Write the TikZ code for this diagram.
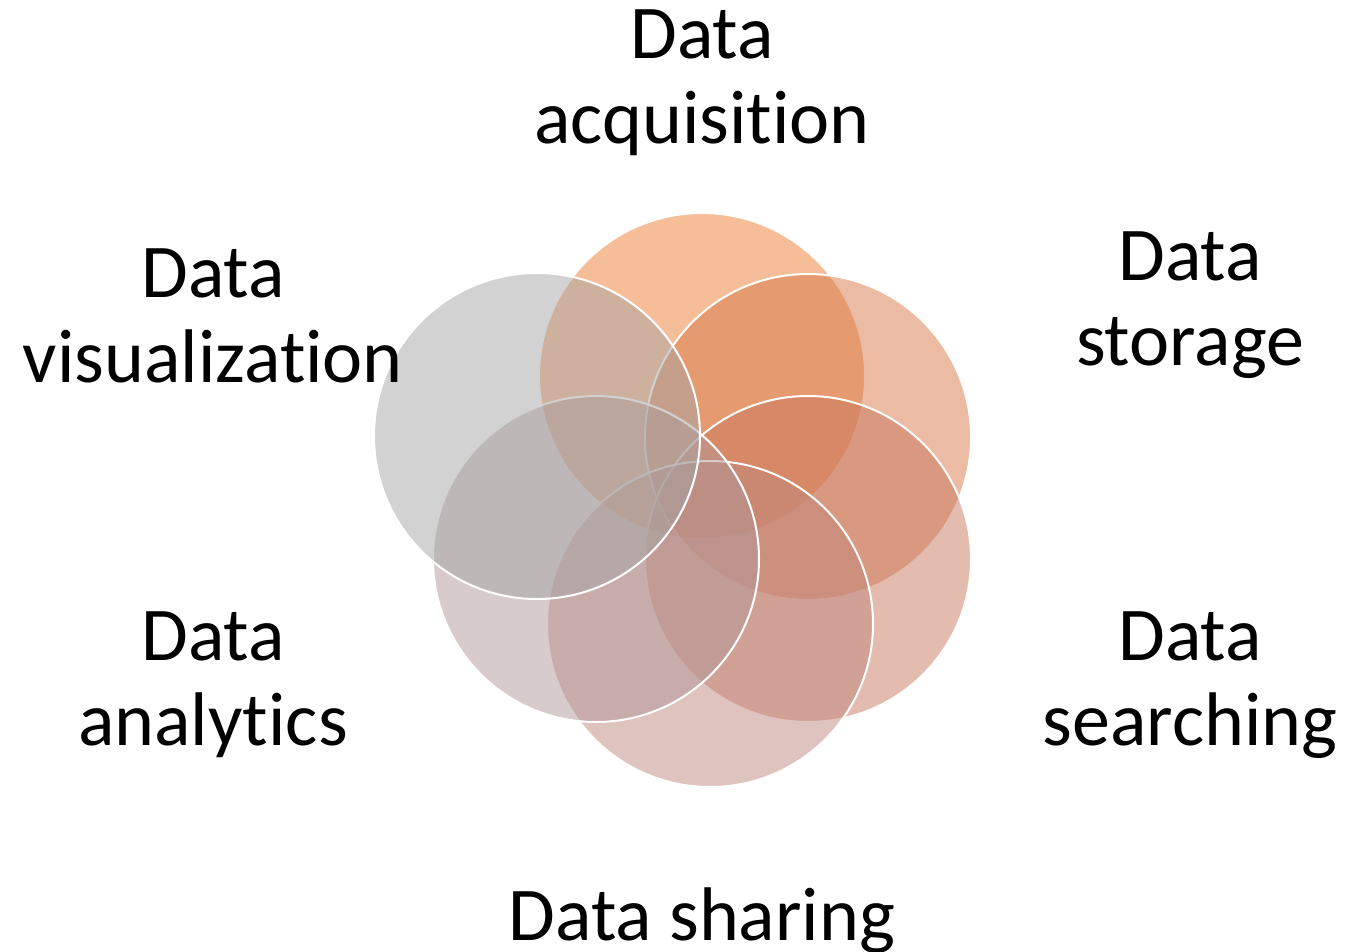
\documentclass[tikz,border=0pt]{standalone}
\usepackage{fontspec}
\setmainfont{Carlito}[Ligatures=NoCommon]
\begin{document}
\begin{tikzpicture}[x=1pt,y=-1pt,
  circ/.style={circle, draw=white, line width=2pt, fill opacity=0.5, minimum size=326pt, inner sep=0pt, outer sep=0pt},
  lbl/.style={font=\fontsize{76}{85}\selectfont, align=center, inner sep=0pt, anchor=base}]
\useasboundingbox (0,0) rectangle (1347,951);
\definecolor{cA}{RGB}{237,125,49}
\definecolor{cB}{RGB}{215,119,73}
\definecolor{cC}{RGB}{201,121,95}
\definecolor{cD}{RGB}{191,135,125}
\definecolor{cE}{RGB}{177,151,153}
\definecolor{cF}{RGB}{165,165,165}
\node[circ, fill=cA] (acq) at (702,376) {};
\node[circ, fill=cB] (sto) at (808,437) {};
\node[circ, fill=cC] (sea) at (808,559) {};
\node[circ, fill=cD] (sha) at (710,624) {};
\node[circ, fill=cE] (ana) at (596,559) {};
\node[circ, fill=cF] (vis) at (537,436) {};
\node[lbl] (tacq) at (702,143) {Data\\acquisition};
\node[lbl] (tsto) at (1190,365) {Data\\storage};
\node[lbl] (tsea) at (1190,745) {Data\\searching};
\node[lbl] (tsha) at (702,940) {Data sharing};
\node[lbl] (tana) at (213,745) {Data\\analytics};
\node[lbl] (tvis) at (213,382) {Data\\visualization};
\end{tikzpicture}
\end{document}
